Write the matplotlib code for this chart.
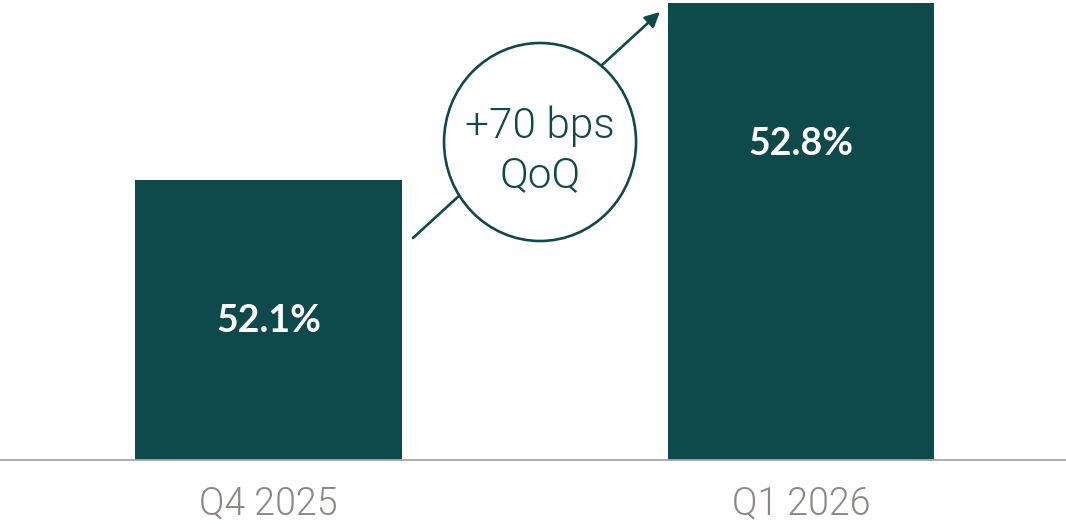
import matplotlib.pyplot as plt
from matplotlib.patches import Ellipse

# data
quarters = ['Q4 2025', 'Q1 2026']
margin = [52.1, 52.8]
labels = ['52.1%', '52.8%']
change_text = '+70 bps\nQoQ'

bar_col = '#0e4a4c'
grey = '#8c8784'
plt.rcParams['font.family'] = ['Lato', 'DejaVu Sans']
light = ['Roboto', 'Lato', 'DejaVu Sans']

fig = plt.figure(figsize=(10.66, 5.24), dpi=100)
ax = fig.add_axes([0, 1 - 460 / 524, 1, 460 / 524])

x = list(range(len(quarters)))
ax.bar(x, [m - 51.0 for m in margin], bottom=51.0, width=0.5, color=bar_col, zorder=2)

# value labels a bit below the bar tops
for xi, m, lab in zip(x, margin, labels):
    ax.text(xi, m - 0.555, lab, ha='center', va='center',
            color='white', fontsize=27, fontweight='bold')

ax.set_xlim(-0.504, 1.497)
ax.set_ylim(51.0, 52.81)
ax.set_xticks(x)
ax.set_xticklabels(quarters, fontsize=27, color=grey, family=light, fontweight=300)
ax.tick_params(axis='x', length=0, pad=18)
ax.set_yticks([])
for s in ['top', 'left', 'right']:
    ax.spines[s].set_visible(False)
ax.spines['bottom'].set_color('#a6a6a6')
ax.spines['bottom'].set_linewidth(1.3)

# arrow with circle bubble on top
ax.annotate('', xy=(0.6191, 0.9739), xytext=(0.3874, 0.4826), xycoords='axes fraction',
            arrowprops=dict(arrowstyle='-|>', color=bar_col, lw=1.9, mutation_scale=22,
                            shrinkA=0, shrinkB=0), zorder=3)
circ = Ellipse((0.5066, 0.6913), 192 / 1066, 198 / 460, transform=ax.transAxes,
               facecolor='white', edgecolor=bar_col, lw=1.9, zorder=4)
ax.add_patch(circ)
ax.text(0.5066, 0.672, change_text, transform=ax.transAxes, ha='center', va='center',
        fontsize=30.5, color=bar_col, zorder=5, linespacing=1.25, family=light, fontweight=300)

fig.savefig('out.png', dpi=100)
